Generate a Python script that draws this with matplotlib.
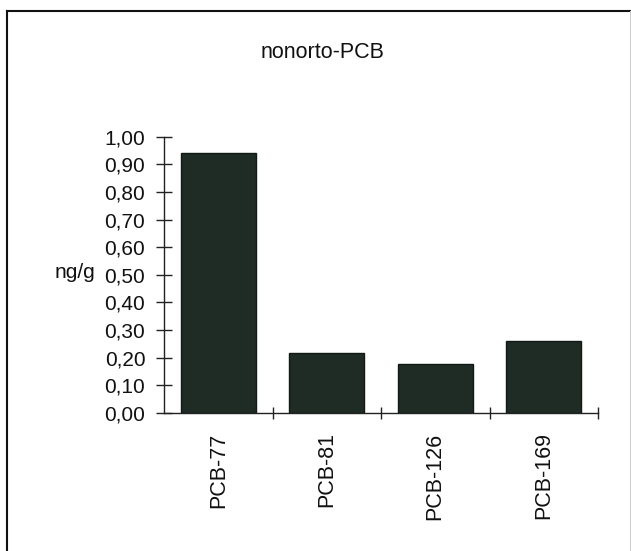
import matplotlib
matplotlib.use("Agg")
import matplotlib.pyplot as plt
from matplotlib.lines import Line2D
from matplotlib.ticker import FixedLocator

# Data
categories = ["PCB-77", "PCB-81", "PCB-126", "PCB-169"]
values = [0.94, 0.217, 0.176, 0.261]
y_ticks = [0.0, 0.1, 0.2, 0.3, 0.4, 0.5, 0.6, 0.7, 0.8, 0.9, 1.0]
y_tick_labels = ["0,00", "0,10", "0,20", "0,30", "0,40", "0,50",
                 "0,60", "0,70", "0,80", "0,90", "1,00"]
title = "nonorto-PCB"
unit = "ng/g"

plt.rcParams["font.family"] = ["Liberation Sans", "DejaVu Sans"]

W, H = 631, 551
fig = plt.figure(figsize=(W / 100, H / 100), dpi=100)
fig.patch.set_facecolor("white")

ax = fig.add_axes([164 / W, 1 - 413 / H, (598 - 164) / W, (413 - 136.7) / H])
x = list(range(len(categories)))
ax.bar(x, values, width=0.69, color="#1f2b25", edgecolor="#111a16", linewidth=1.0)

ax.set_xlim(-0.5, len(categories) - 0.5)
ax.set_ylim(0, 1.0)

for s in ["top", "right"]:
    ax.spines[s].set_visible(False)
for s in ["left", "bottom"]:
    ax.spines[s].set_linewidth(1.0)
    ax.spines[s].set_color("#222222")

ax.set_yticks(y_ticks)
ax.set_yticklabels(y_tick_labels, fontsize=15)
ax.tick_params(axis="y", direction="inout", length=12, width=1.0, pad=7.5, colors="#222222")
ax.tick_params(axis="y", labelcolor="#111111")

ax.set_xticks(x)
ax.set_xticklabels(categories, rotation=90, fontsize=15.5, va="top", ha="center")
ax.tick_params(axis="x", which="major", length=0, pad=14, labelcolor="#111111")
ax.xaxis.set_minor_locator(FixedLocator([i + 0.5 for i in x]))
ax.tick_params(axis="x", which="minor", direction="inout", length=9, width=1.0, colors="#222222")

fig.text(323 / W, 1 - 52 / H, title, ha="center", va="center", fontsize=15.5, color="#111111")
fig.text(95 / W, 1 - 273 / H, unit, ha="right", va="center", fontsize=15, color="#111111")

# Outer frame
fig.add_artist(Line2D([7 / W, 7 / W], [0, 1 - 11 / H], transform=fig.transFigure,
                      color="#111111", linewidth=1.5))
fig.add_artist(Line2D([7 / W, 1], [1 - 11 / H, 1 - 11 / H], transform=fig.transFigure,
                      color="#111111", linewidth=1.5))
fig.add_artist(Line2D([629.5 / W, 629.5 / W], [0, 1 - 11 / H], transform=fig.transFigure,
                      color="#cccccc", linewidth=0.8))

fig.savefig("out.png", dpi=100, facecolor="white")
